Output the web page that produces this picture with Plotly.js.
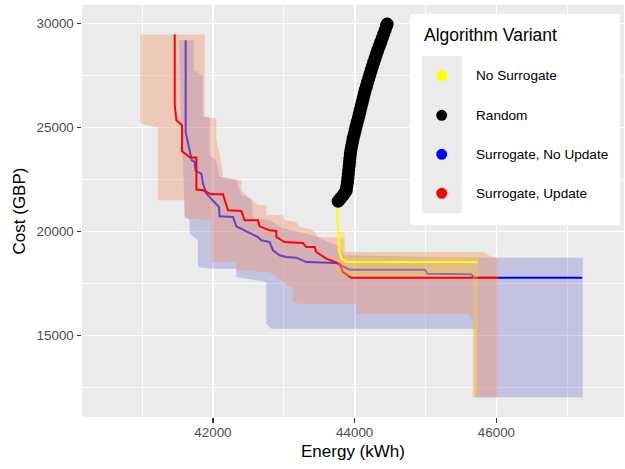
<!DOCTYPE html>
<html>
<head>
<meta charset="utf-8">
<script src="https://cdn.plot.ly/plotly-3.0.1.min.js"></script>
<style>html,body{margin:0;padding:0;background:#fff;}#chart{width:625px;height:469px;}</style>
</head>
<body>
<div id="chart"></div>
<script>
// ---------- data ----------
const variantNames = ["No Surrogate", "Random", "Surrogate, No Update", "Surrogate, Update"];
const variantColors = ["#FFFF00", "#000000", "#0000FF", "#FF0000"];

const xTickVals = [42000, 44000, 46000];
const xTickText = ["42000", "44000", "46000"];
const xMinorVals = [41000, 43000, 45000, 47000];
const yTickVals = [15000, 20000, 25000, 30000];
const yTickText = ["15000", "20000", "25000", "30000"];
const yMinorVals = [12500, 17500, 22500, 27500];

// Surrogate, Update (red) front
const updEnergy = [41460, 41460, 41484, 41563, 41563, 41681, 41766, 41766, 41859, 41977, 42141, 42212, 42400, 42447, 42635, 42659, 42800, 42894, 42894, 43011, 43269, 43317, 43434, 43458, 43599, 43740, 43787, 43834, 43928, 43952, 46019];
const updCost   = [29471, 26102, 25347, 25106, 23855, 23552, 23552, 22012, 21978, 21786, 21786, 21016, 20982, 20535, 20535, 20246, 20054, 20020, 19731, 19491, 19443, 19250, 19250, 19009, 18692, 18528, 18451, 18047, 17807, 17768, 17768];

// Surrogate, No Update (blue) front
const noUpdEnergy = [41615, 41615, 41695, 41700, 41742, 41756, 41836, 41859, 41907, 42000, 42085, 42094, 42282, 42330, 42447, 42635, 42682, 42800, 42846, 42941, 43035, 43176, 43317, 43740, 43833, 43928, 44985, 45032, 45644, 45690, 47209];
const noUpdCost   = [29196, 24784, 23504, 23422, 23340, 22907, 22782, 22301, 21820, 21497, 21175, 20727, 20694, 20246, 20054, 19731, 19573, 19491, 19091, 18851, 18769, 18740, 18528, 18480, 18321, 18163, 18163, 17970, 17937, 17768, 17768];

// No Surrogate (yellow) front
const noSurEnergy = [43749, 43763, 43780, 43811, 43881, 45737];
const noSurCost   = [21175, 19895, 19091, 18692, 18528, 18528];

// Random (black) points
const randEnergy = [43766, 43800, 43836, 43864, 43881, 43889, 43897, 43904, 43910, 43915, 43921, 43927, 43932, 43939, 43946, 43956, 43968, 43979, 43993, 44007, 44021, 44035, 44051, 44065, 44078, 44092, 44106, 44120, 44134, 44148, 44166, 44182, 44199, 44216, 44233, 44251, 44269, 44288, 44306, 44326, 44347, 44368, 44389, 44410, 44430, 44448, 44458];
const randCost   = [21450, 21593, 21738, 21882, 21978, 22171, 22363, 22556, 22748, 22941, 23133, 23326, 23518, 23711, 23903, 24096, 24288, 24481, 24673, 24866, 25058, 25251, 25443, 25636, 25828, 26020, 26213, 26405, 26598, 26790, 26983, 27175, 27368, 27560, 27753, 27945, 28138, 28330, 28523, 28715, 28908, 29100, 29293, 29485, 29678, 29870, 29966];

// Spread bands (outline of each shaded region)
const updBandEnergy = [40976, 41883, 41883, 42048, 42048, 42094, 42141, 42401, 42401, 42518, 42635, 42753, 42753, 42987, 43011, 43176, 43223, 43410, 43481, 43857, 43857, 45832, 45927, 46020, 46020, 45667, 45667, 45597, 44023, 44023, 43223, 43128, 43128, 42800, 42330, 42330, 41977, 41977, 41601, 41601, 41224, 41224, 41013, 40976];
const updBandCost   = [29471, 29471, 25467, 25467, 24384, 23744, 22618, 22459, 21978, 21579, 21257, 21257, 20775, 20775, 20535, 20453, 20212, 20087, 19731, 19702, 19009, 19009, 18769, 18740, 12032, 12032, 15723, 16045, 16045, 16526, 16526, 16603, 17248, 18033, 18129, 18514, 18514, 20535, 20631, 21497, 21497, 25024, 25140, 25265];

const noUpdBandEnergy = [41520, 41732, 41732, 41859, 41859, 41953, 41953, 42048, 42094, 42330, 42401, 42542, 42564, 42800, 42987, 43223, 43477, 43787, 43857, 45738, 47218, 47218, 45705, 45705, 42824, 42753, 42753, 42330, 42330, 41977, 41788, 41788, 41671, 41671, 41601, 41577, 41554, 41520];
const noUpdBandCost   = [29196, 29196, 27753, 27512, 25506, 25506, 23663, 23422, 22618, 22459, 21738, 21579, 20617, 20535, 20150, 19972, 19731, 19250, 18851, 18740, 18740, 12032, 12032, 15323, 15323, 15564, 17566, 17806, 18211, 18211, 18288, 19572, 19895, 20535, 20775, 23422, 24384, 29196];

const noSurBandEnergy = [43745, 43857, 43857, 45738, 45738, 45667, 45667, 43857, 43759, 43745];
const noSurBandCost   = [19972, 19972, 18769, 18769, 12196, 12196, 17840, 17840, 18129, 19972];

// ---------- styling / layout constants ----------
const W = 625, H = 469;
const M = {l: 82, r: 1, t: 5, b: 52};
const FONT = '"Liberation Sans", Arial, Helvetica, sans-serif';

function band(xs, ys, fill) {
  return {x: xs, y: ys, type: 'scatter', mode: 'lines', fill: 'toself', fillcolor: fill,
          line: {width: 0, color: 'rgba(0,0,0,0)'}, hoverinfo: 'skip', showlegend: false};
}
function front(xs, ys, color) {
  return {x: xs, y: ys, type: 'scatter', mode: 'lines', line: {color: color, width: 2},
          showlegend: false};
}

const traces = [
  band(noUpdBandEnergy, noUpdBandCost, 'rgba(90,90,200,0.28)'),
  front(noUpdEnergy, noUpdCost, variantColors[2]),
  band(updBandEnergy, updBandCost, 'rgba(240,150,115,0.42)'),
  front(updEnergy, updCost, variantColors[3]),
  band(noSurBandEnergy, noSurBandCost, 'rgba(255,215,60,0.32)'),
  front(noSurEnergy, noSurCost, variantColors[0]),
  {x: randEnergy, y: randCost, type: 'scatter', mode: 'markers',
   marker: {color: variantColors[1], size: 13, line: {width: 0}}, showlegend: false}
];

// manual ggplot-style legend (pixel geometry -> paper coords)
const pw = W - M.l - M.r, ph = H - M.t - M.b;
const px = v => (v - M.l) / pw;
const py = v => (H - M.b - v) / ph;
const shapes = [
  {type: 'rect', xref: 'paper', yref: 'paper', x0: px(410), x1: px(620), y0: py(225), y1: py(14),
   fillcolor: '#FFFFFF', line: {width: 0}, layer: 'above'},
  {type: 'rect', xref: 'paper', yref: 'paper', x0: px(421.7), x1: px(461.7), y0: py(213.3), y1: py(56),
   fillcolor: '#EBEBEB', line: {width: 0}, layer: 'above'}
];
const annotations = [
  {xref: 'paper', yref: 'paper', x: px(422), y: py(35), xanchor: 'left', yanchor: 'middle',
   text: 'Algorithm Variant', showarrow: false, font: {family: FONT, size: 17.5, color: '#000'}}
];
const keyY = [75.7, 115.3, 154.3, 193.3];
const r = 5.5;
variantNames.forEach((name, i) => {
  shapes.push({type: 'circle', xref: 'paper', yref: 'paper',
    x0: px(441.7 - r), x1: px(441.7 + r), y0: py(keyY[i] + r), y1: py(keyY[i] - r),
    fillcolor: variantColors[i], line: {width: 0}, layer: 'above'});
  annotations.push({xref: 'paper', yref: 'paper', x: px(474), y: py(keyY[i]), xanchor: 'left', yanchor: 'middle',
    text: name, showarrow: false, font: {family: FONT, size: 13.6, color: '#000'}});
});

const axisCommon = {
  tickmode: 'array', ticks: 'outside', ticklen: 4.5, tickwidth: 1.4, tickcolor: '#333333',
  tickfont: {family: FONT, size: 13.4, color: '#4D4D4D'},
  showgrid: true, gridcolor: '#FFFFFF', gridwidth: 1.6,
  zeroline: false, showline: false, fixedrange: true
};

const layout = {
  width: W, height: H, margin: M,
  paper_bgcolor: '#FFFFFF', plot_bgcolor: '#EBEBEB',
  font: {family: FONT},
  xaxis: Object.assign({}, axisCommon, {
    range: [40152, 47800], tickvals: xTickVals, ticktext: xTickText, ticklabelstandoff: -2,
    minor: {tickmode: 'array', tickvals: xMinorVals, showgrid: true, gridcolor: '#FFFFFF', gridwidth: 0.8, ticks: ''},
    title: {text: 'Energy (kWh)', font: {family: FONT, size: 17, color: '#000'}, standoff: 6}
  }),
  yaxis: Object.assign({}, axisCommon, {
    range: [11080, 30885], tickvals: yTickVals, ticktext: yTickText,
    minor: {tickmode: 'array', tickvals: yMinorVals, showgrid: true, gridcolor: '#FFFFFF', gridwidth: 0.8, ticks: ''},
    title: {text: 'Cost (GBP)', font: {family: FONT, size: 17, color: '#000'}, standoff: 6}
  }),
  shapes: shapes,
  annotations: annotations,
  showlegend: false
};

Plotly.newPlot('chart', traces, layout, {displayModeBar: false, staticPlot: true});
</script>
</body>
</html>
